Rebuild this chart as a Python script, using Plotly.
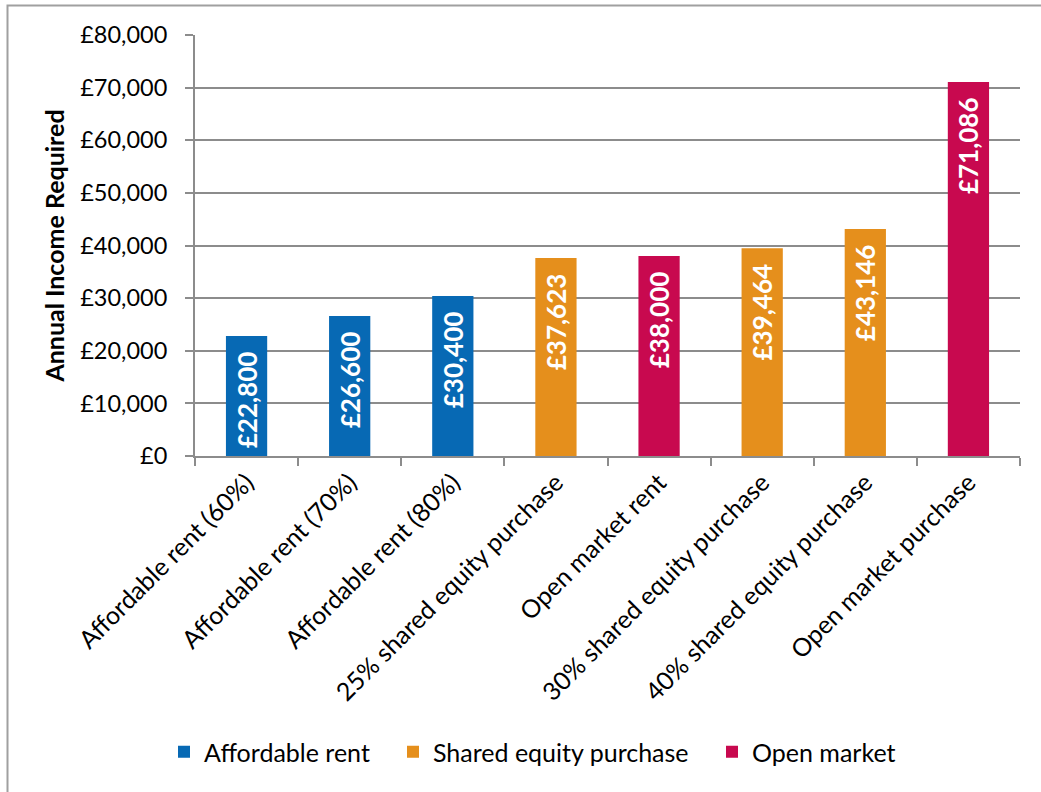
import plotly.graph_objects as go

categories = [
    "Affordable rent (60%)",
    "Affordable rent (70%)",
    "Affordable rent (80%)",
    "25% shared equity purchase",
    "Open market rent",
    "30% shared equity purchase",
    "40% shared equity purchase",
    "Open market purchase",
]
values = [22800, 26600, 30400, 37623, 38000, 39464, 43146, 71086]
groups = [
    "Affordable rent", "Affordable rent", "Affordable rent",
    "Shared equity purchase", "Open market", "Shared equity purchase",
    "Shared equity purchase", "Open market",
]
group_order = ["Affordable rent", "Shared equity purchase", "Open market"]
colors = {"Affordable rent": "#0769B4", "Shared equity purchase": "#E58F1C", "Open market": "#C8094F"}

W, H = 1041, 792
ML, MR, MT, MB = 195, 21, 35, 336
PW, PH = W - ML - MR, H - MT - MB

FONT = "Lato"

def px_to_paper_x(px):
    return (px - ML) / PW

def px_to_paper_y(py):
    return (H - MB - py) / PH

legend_names = ["legend", "legend2", "legend3"]
legend_sym_px = [184, 413, 732]

fig = go.Figure()
for g, lg in zip(group_order, legend_names):
    xs = [c for c, gg in zip(categories, groups) if gg == g]
    ys = [v for v, gg in zip(values, groups) if gg == g]
    fig.add_trace(go.Bar(
        x=xs, y=ys, name=g, width=0.4, legend=lg,
        marker=dict(color=colors[g], line=dict(width=0)),
        texttemplate="£%{y:,}\u00a0\u00a0", textposition="inside",
        insidetextanchor="end", textangle=-90,
        textfont=dict(color="white", size=26, family=FONT, weight="bold"),
        constraintext="none",
    ))

legend_common = dict(orientation="h", y=px_to_paper_y(752), yanchor="middle", xanchor="left",
                     font=dict(size=25, family=FONT), itemwidth=30, bgcolor="rgba(0,0,0,0)")

layout_legends = {}
for lg, sx in zip(legend_names, legend_sym_px):
    layout_legends[lg] = dict(x=px_to_paper_x(sx - 20), **legend_common)

fig.update_layout(
    width=W, height=H,
    margin=dict(l=ML, r=MR, t=MT, b=MB),
    barmode="overlay",
    plot_bgcolor="white", paper_bgcolor="white",
    font=dict(family=FONT, size=24, color="black"),
    showlegend=True,
    xaxis=dict(type="category", categoryorder="array", categoryarray=categories,
               tickangle=-45, showline=True, linecolor="#8C8C8C", linewidth=2,
               ticks="outside", tickson="boundaries", ticklen=8, tickcolor="#8C8C8C", tickwidth=2,
               showgrid=False, tickfont=dict(size=25, family=FONT)),
    yaxis=dict(range=[0, 80000], dtick=10000, tickprefix="£", tickformat=",",
               showline=True, linecolor="#8C8C8C", linewidth=2,
               ticks="outside", ticklen=8, tickcolor="#8C8C8C", tickwidth=2,
               ticklabelstandoff=13,
               showgrid=True, gridcolor="#8C8C8C", gridwidth=2, zeroline=False,
               title=dict(text="<b>Annual Income Required</b>", font=dict(size=25, family=FONT), standoff=8),
               tickfont=dict(size=23.5, family=FONT)),
    shapes=[dict(type="rect", xref="paper", yref="paper",
                 x0=px_to_paper_x(7.5), x1=px_to_paper_x(1060),
                 y0=px_to_paper_y(820), y1=px_to_paper_y(5.5),
                 line=dict(color="#A0A0A0", width=2), layer="below")],
    **layout_legends,
)

fig.write_html("out.html")
